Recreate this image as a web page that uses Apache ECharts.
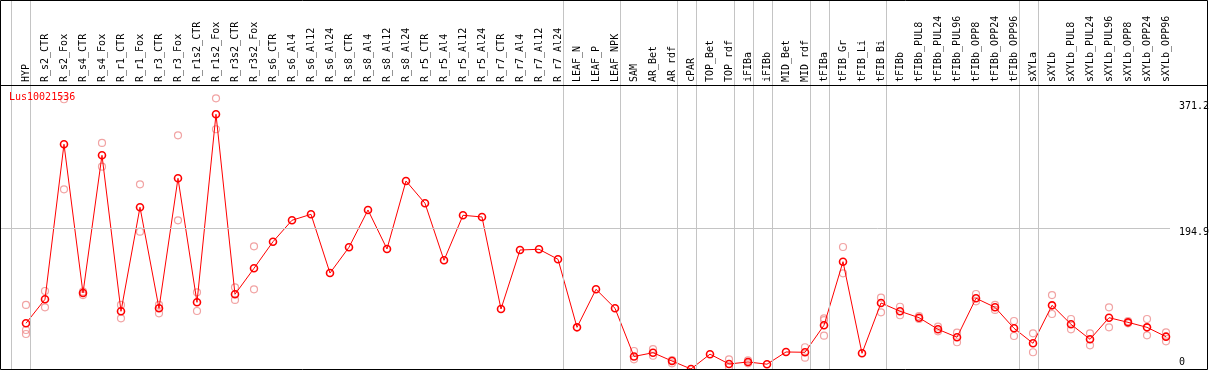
<!DOCTYPE html>
<html>
<head>
<meta charset="utf-8">
<script src="https://cdn.jsdelivr.net/npm/echarts@6/dist/echarts.min.js"></script>
<style>
html, body { margin: 0; padding: 0; background: #fff; }
#chart { width: 1209px; height: 370px; }
</style>
</head>
<body>
<div id="chart"></div>
<script>
// expression profile of one gene across tissues / treatments
const geneName = "Lus10021536";

const categories = [
  "HYP", "R_s2_CTR", "R_s2_Fox", "R_s4_CTR", "R_s4_Fox", "R_r1_CTR", "R_r1_Fox",
  "R_r3_CTR", "R_r3_Fox", "R_r1s2_CTR", "R_r1s2_Fox", "R_r3s2_CTR", "R_r3s2_Fox",
  "R_s6_CTR", "R_s6_Al4", "R_s6_Al12", "R_s6_Al24", "R_s8_CTR", "R_s8_Al4", "R_s8_Al12",
  "R_s8_Al24", "R_r5_CTR", "R_r5_Al4", "R_r5_Al12", "R_r5_Al24", "R_r7_CTR", "R_r7_Al4",
  "R_r7_Al12", "R_r7_Al24", "LEAF_N", "LEAF_P", "LEAF_NPK", "SAM", "AR_Bet", "AR_rdf",
  "cPAR", "TOP_Bet", "TOP_rdf", "iFIBa", "iFIBb", "MID_Bet", "MID_rdf", "tFIBa",
  "tFIB_Gr", "tFIB_Li", "tFIB_Bi", "tFIBb", "tFIBb_PUL8", "tFIBb_PUL24", "tFIBb_PUL96",
  "tFIBb_OPP8", "tFIBb_OPP24", "tFIBb_OPP96", "sXYLa", "sXYLb", "sXYLb_PUL8",
  "sXYLb_PUL24", "sXYLb_PUL96", "sXYLb_OPP8", "sXYLb_OPP24", "sXYLb_OPP96"
];

// mean of replicates
const meanValues = [
  65.4, 98.0, 308.7, 106.6, 293.7, 81.7, 223.1, 85.8, 262.5, 93.9, 349.5, 104.8, 140.1,
  176.3, 205.4, 213.5, 133.7, 168.7, 219.4, 166.4, 258.8, 228.5, 151.0, 212.2, 209.9,
  84.8, 165.0, 166.0, 152.4, 59.9, 111.6, 85.8,
  20.3, 25.4, 14.1, 3.3, 23.4, 10.1, 12.8, 9.8, 26.4, 26.0, 62.7, 149.1, 24.6, 93.0,
  81.8, 73.0, 57.2, 46.4, 99.4, 87.1, 58.6, 38.2, 89.8, 64.0, 43.6, 73.0, 66.7, 59.9, 47.2
];

// single replicates (null = none)
const repA = [
  90.3, 109.3, 369.9, 108.3, 310.5, 90.3, 254.3, 90.3, 320.9, 107.5, 371.2, 114.3, 170.0,
  null, null, null, null, null, null, null, null, null, null, null, null, null, null, null, null,
  null, null, null,
  27.7, 30.4, 15.5, null, null, 16.4, 15.1, null, null, 32.8, 72.2, 169.1, null, 100.2,
  87.9, 75.3, 60.8, 52.6, 105.2, 90.3, 68.5, 51.8, 103.8, 71.2, 51.8, 87.1, 68.5, 71.2, 53.1
];
const repB = [
  56.3, 87.1, 247.5, 103.8, 278.2, 72.2, 189.9, 79.0, 205.4, 82.1, 329.1, 97.1, 111.6,
  null, null, null, null, null, null, null, null, null, null, null, null, null, null, null, null,
  null, null, null,
  16.4, 21.3, 11.0, null, null, 5.6, 11.0, null, null, 18.6, 48.5, 133.3, null, 80.3,
  76.3, 71.2, 54.5, 39.6, 95.3, 83.5, 48.1, 26.0, 78.0, 57.2, 35.5, 59.9, 65.4, 49.1, 40.9
];
const repC = [
  50.8, null, null, null, null, null, null, null, null, null, null, null, null,
  null, null, null, null, null, null, null, null, null, null, null, null, null, null, null, null,
  null, null, null,
  null, null, null, null, null, null, null, null, null, null, 69.8, null, null, null,
  null, null, null, null, null, null, null, null, null, null, null, null, null, null, null
];

// number of samples in each separated group
const groupSizes = [1, 28, 3, 3, 1, 2, 1, 1, 2, 1, 3, 7, 1, 7];

// right-hand scale labels
const yTicks = [0, 194.9, 371.2];

const mono = "DejaVu Sans Mono";
const gridGray = "#c4c4c4";

const seps = [];
let pos = -1;
seps.push(pos + 0.25);
groupSizes.forEach(function (n) {
  pos += n;
  seps.push(pos + 0.25);
});

const repData = [];
[repA, repB, repC].forEach(function (arr) {
  arr.forEach(function (v, i) {
    if (v !== null) repData.push([i, v]);
  });
});

const tickShift = [-9, 4.6, 8.4];
const tickLines = yTicks.map(function (v, i) {
  return {
    yAxis: v,
    lineStyle: { color: i === 1 ? gridGray : "rgba(0,0,0,0)", type: "solid", width: 1 },
    label: { offset: [0, tickShift[i]] }
  };
});

const chart = echarts.init(document.getElementById("chart"), null, { renderer: "canvas" });

const option = {
  animation: false,
  backgroundColor: "#fff",
  title: {
    text: geneName,
    left: 9,
    top: 92,
    padding: 0,
    textStyle: { color: "#ff0000", fontFamily: mono, fontSize: 10, fontWeight: "normal" }
  },
  grid: [
    { left: 0, right: 39, top: 0, bottom: -1.4, outerBoundsMode: "none" },
    { left: 16.5, right: 33.5, top: 85, height: 100, outerBoundsMode: "none" }
  ],
  xAxis: [
    { type: "value", gridIndex: 0, min: -1.368, max: 60.21, show: false },
    {
      type: "category",
      gridIndex: 1,
      position: "top",
      data: categories,
      boundaryGap: true,
      axisLine: { show: false },
      axisTick: { show: false },
      splitLine: { show: false },
      axisLabel: {
        interval: 0,
        rotate: 90,
        margin: 3,
        color: "#000",
        fontFamily: mono,
        fontSize: 10
      }
    }
  ],
  yAxis: [
    { type: "value", gridIndex: 0, min: 0, max: 504.8, show: false },
    { type: "value", gridIndex: 1, show: false }
  ],
  series: [
    {
      name: "guides",
      type: "line",
      xAxisIndex: 0,
      yAxisIndex: 0,
      data: [],
      z: 1,
      silent: true,
      markLine: {
        silent: true,
        symbol: ["none", "none"],
        animation: false,
        label: {
          show: true,
          position: "end",
          distance: 9,
          color: "#000",
          fontFamily: mono,
          fontSize: 10,
          formatter: function (p) { return String(p.value); }
        },
        lineStyle: { color: gridGray, type: "solid", width: 1 },
        emphasis: { disabled: true },
        data: tickLines.concat(seps.map(function (s) {
          return { xAxis: s, label: { show: false } };
        }))
      }
    },
    {
      name: "replicates",
      type: "scatter",
      xAxisIndex: 0,
      yAxisIndex: 0,
      z: 2,
      symbol: "circle",
      symbolSize: 7,
      itemStyle: { color: "rgba(0,0,0,0)", borderColor: "#ee8c8c", borderWidth: 1.2 },
      data: repData
    },
    {
      name: geneName,
      type: "line",
      xAxisIndex: 0,
      yAxisIndex: 0,
      z: 3,
      symbol: "circle",
      symbolSize: 7,
      showAllSymbol: true,
      lineStyle: { color: "#ff0000", width: 1 },
      itemStyle: { color: "rgba(0,0,0,0)", borderColor: "#ff0000", borderWidth: 1.6 },
      data: meanValues.map(function (v, i) { return [i, v]; })
    }
  ],
  graphic: [
    {
      type: "rect",
      silent: true,
      z: 10,
      shape: { x: 0.5, y: 0.5, width: 1207, height: 369 },
      style: { fill: null, stroke: "#000", lineWidth: 1 }
    },
    {
      type: "line",
      silent: true,
      z: 10,
      shape: { x1: 0, y1: 85.5, x2: 1208, y2: 85.5 },
      style: { stroke: "#000", lineWidth: 1 }
    }
  ]
};

chart.setOption(option);
</script>
</body>
</html>
